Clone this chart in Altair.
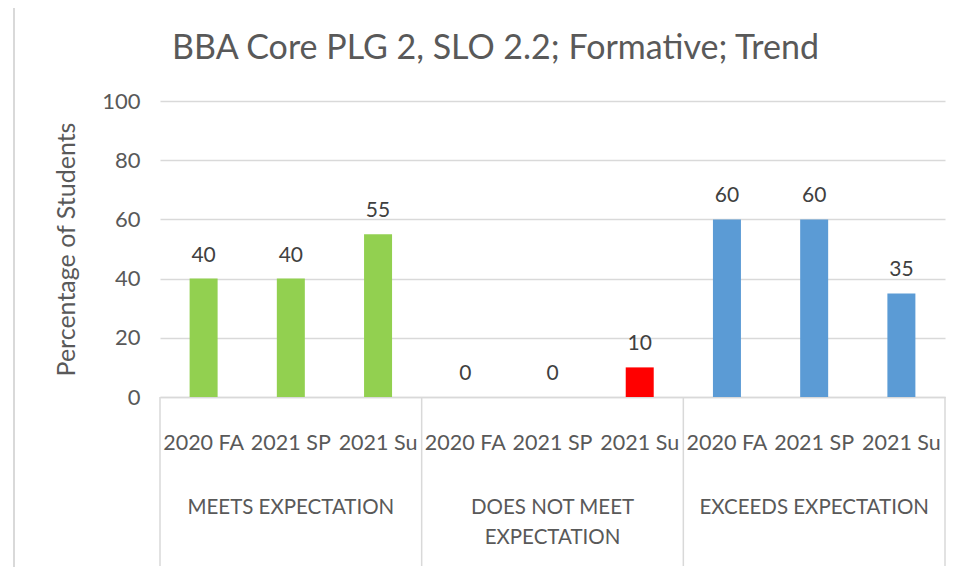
import altair as alt
import pandas as pd

title_text = "BBA Core PLG 2, SLO 2.2; Formative; Trend"
groups = ["MEETS EXPECTATION", "DOES NOT MEET EXPECTATION", "EXCEEDS EXPECTATION"]
group_labels = ["MEETS EXPECTATION", "DOES NOT MEET\nEXPECTATION", "EXCEEDS EXPECTATION"]
periods = ["2020 FA", "2021 SP", "2021 Su"]
meets = [40, 40, 55]
does_not_meet = [0, 0, 10]
exceeds = [60, 60, 35]
group_colors = ["#92D050", "#FF0000", "#5B9BD5"]
series = [meets, does_not_meet, exceeds]

rows = []
for g, vals in zip(groups, series):
    for p, v in zip(periods, vals):
        rows.append({"key": f"{g}|{p}", "group": g, "period": p, "value": v})
df = pd.DataFrame(rows)
keys = list(df["key"])

first_keys = [f"{g}|{periods[0]}" for g in groups]
mid_keys = [f"{g}|{periods[1]}" for g in groups]
last_key = f"{groups[-1]}|{periods[-1]}"

sep_df = pd.DataFrame({"key": first_keys})
end_df = pd.DataFrame({"key": [last_key]})
glabel_df = pd.DataFrame({"key": mid_keys, "label": group_labels})

FONT = "Lato"
GRAY = "#595959"
LINE = "#d9d9d9"
PLOT_H = 296

xscale = alt.Scale(domain=keys, paddingInner=0, paddingOuter=0)

x_axis = alt.Axis(
    title=None,
    labelExpr="split(datum.value, '|')[1]",
    labelAngle=0,
    labelAlign="center",
    bandPosition=0.5,
    labelFont=FONT,
    labelFontSize=21.5,
    labelColor=GRAY,
    labelPadding=35,
    ticks=False,
    domain=True,
    domainColor=LINE,
    domainWidth=1.5,
    grid=False,
)

y_axis = alt.Axis(
    title="Percentage of Students",
    titleFont=FONT,
    titleFontSize=25,
    titleFontWeight="normal",
    titleColor=GRAY,
    titlePadding=22,
    values=[0, 20, 40, 60, 80, 100],
    labelFont=FONT,
    labelFontSize=22,
    labelColor=GRAY,
    labelPadding=20,
    ticks=False,
    domain=False,
    grid=True,
    gridColor=LINE,
    gridWidth=1.5,
)

base = alt.Chart(df)

bars = base.mark_bar(width=28).encode(
    x=alt.X("key:N", sort=keys, scale=xscale, axis=x_axis),
    y=alt.Y("value:Q", scale=alt.Scale(domain=[0, 100], nice=False), axis=y_axis),
    color=alt.Color("group:N", scale=alt.Scale(domain=groups, range=group_colors), legend=None),
)

labels = base.mark_text(
    font=FONT, fontSize=21, color="#404040", baseline="alphabetic", dy=-17
).encode(
    x=alt.X("key:N", sort=keys, scale=xscale),
    y=alt.Y("value:Q"),
    text=alt.Text("value:Q"),
)

seps = alt.Chart(sep_df).mark_rule(color=LINE, strokeWidth=1.5).encode(
    x=alt.X("key:N", sort=keys, scale=xscale, bandPosition=0),
    y=alt.value(PLOT_H),
    y2=alt.value(PLOT_H + 169),
)
end_sep = alt.Chart(end_df).mark_rule(color=LINE, strokeWidth=1.5).encode(
    x=alt.X("key:N", sort=keys, scale=xscale, bandPosition=1),
    y=alt.value(PLOT_H),
    y2=alt.value(PLOT_H + 169),
)

# chart-area border on the left edge
border = alt.Chart(pd.DataFrame({"k": [0]})).mark_rule(color=LINE, strokeWidth=2).encode(
    x=alt.value(-146),
    y=alt.value(-93),
    y2=alt.value(PLOT_H + 180),
)

glabels = alt.Chart(glabel_df).mark_text(
    font=FONT, fontSize=20.5, color=GRAY, baseline="top", lineBreak="\n", lineHeight=30
).encode(
    x=alt.X("key:N", sort=keys, scale=xscale),
    y=alt.value(PLOT_H + 101),
    text="label:N",
)

chart = alt.layer(bars, labels, seps, end_sep, border, glabels).properties(
    width=785,
    height=PLOT_H,
    title=alt.TitleParams(
        text=title_text,
        font=FONT,
        fontSize=34,
        fontWeight="normal",
        color=GRAY,
        anchor="middle",
        dx=-57,
        offset=-59,
    ),
    autosize=alt.AutoSizeParams(type="none"),
    padding={"left": 152, "top": 93, "right": 18, "bottom": 170},
).configure_view(stroke=None)

chart.save("out.html", embed_options={"renderer": "svg", "actions": False})
